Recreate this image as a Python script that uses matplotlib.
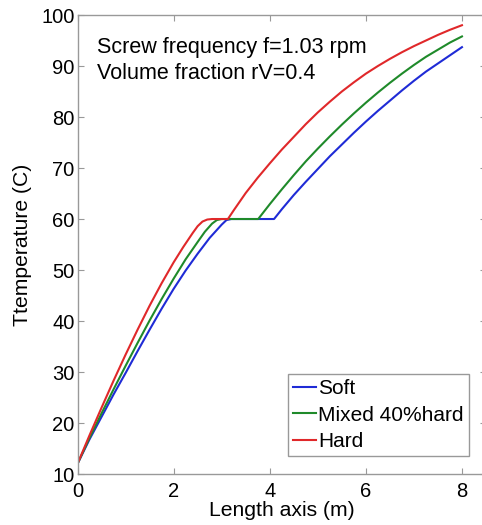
import matplotlib
matplotlib.use("Agg")
import matplotlib.pyplot as plt

plt.rcParams['font.family'] = ['Liberation Sans', 'DejaVu Sans']

# Soft (blue)
soft_x = [0, 0.25, 0.5, 0.75, 1.0, 1.25, 1.5, 1.75, 2.0, 2.25, 2.5, 2.75, 3.0, 3.1, 3.2,
          4.09, 4.25, 4.5, 4.75, 5.0, 5.25, 5.5, 5.75, 6.0, 6.25, 6.5, 6.75, 7.0, 7.25, 7.5, 7.75, 8.0]
soft_t = [12, 16.8, 21.2, 25.6, 29.8, 34.1, 38.3, 42.4, 46.3, 49.9, 53.2, 56.3, 58.9, 59.8, 60,
          60, 61.9, 64.7, 67.3, 69.8, 72.3, 74.6, 76.9, 79.1, 81.2, 83.2, 85.2, 87.1, 88.9, 90.5, 92.1, 93.7]

# Mixed 40% hard (green)
mixed_x = [0, 0.25, 0.5, 0.75, 1.0, 1.25, 1.5, 1.75, 2.0, 2.25, 2.5, 2.65, 2.8, 2.9, 3.0,
           3.76, 4.0, 4.25, 4.5, 4.75, 5.0, 5.25, 5.5, 5.75, 6.0, 6.25, 6.5, 6.75, 7.0, 7.25, 7.5, 7.75, 8.0]
mixed_t = [12, 17.1, 21.9, 26.6, 31.2, 35.7, 40.1, 44.3, 48.3, 52.1, 55.5, 57.5, 59.1, 59.8, 60,
           60, 62.9, 65.8, 68.6, 71.3, 73.8, 76.2, 78.5, 80.7, 82.8, 84.8, 86.7, 88.5, 90.2, 91.8, 93.2, 94.6, 95.8]

# Hard (red)
hard_x = [0, 0.25, 0.5, 0.75, 1.0, 1.25, 1.5, 1.75, 2.0, 2.2, 2.4, 2.5, 2.6, 2.7, 2.8,
          3.13, 3.25, 3.5, 3.75, 4.0, 4.25, 4.5, 4.75, 5.0, 5.25, 5.5, 5.75, 6.0, 6.25, 6.5, 6.75,
          7.0, 7.25, 7.5, 7.75, 8.0]
hard_t = [12, 17.6, 23.0, 28.3, 33.4, 38.3, 43.0, 47.4, 51.5, 54.5, 57.3, 58.6, 59.5, 59.9, 60,
          60, 61.7, 65.1, 68.1, 70.9, 73.6, 76.1, 78.6, 80.9, 83.0, 85.0, 86.8, 88.5, 90.0, 91.4, 92.7,
          93.9, 95.0, 96.1, 97.1, 98.0]

series_labels = ["Soft", "Mixed 40%hard", "Hard"]
series_colors = ["#1f2bd6", "#1f8a2a", "#e0282a"]

x_ticks = [0, 2, 4, 6, 8]
y_ticks = [10, 20, 30, 40, 50, 60, 70, 80, 90, 100]

annot_lines = ["Screw frequency f=1.03 rpm", "Volume fraction rV=0.4"]

fig = plt.figure(figsize=(4.82, 5.25), dpi=100)
ax = fig.add_axes([0.1608, 0.0971, 0.8475, 0.8743])

for xs, ts, lab, col in zip([soft_x, mixed_x, hard_x], [soft_t, mixed_t, hard_t],
                            series_labels, series_colors):
    ax.plot(xs, ts, color=col, lw=1.5, label=lab)

ax.set_xlim(0, 8.5)
ax.set_ylim(10, 100)
ax.set_xticks(x_ticks)
ax.set_yticks(y_ticks)
ax.tick_params(direction='in', top=True, right=True, labelsize=14.5, color='#999999',
               length=4, width=0.8)
ax.tick_params(axis='x', pad=5.5)
ax.tick_params(axis='y', pad=2)
for s in ax.spines.values():
    s.set_color('#999999')
    s.set_linewidth(1.0)

ax.set_xlabel("Length axis (m)", fontsize=15.2, labelpad=0)
ax.set_ylabel("Ttemperature (C)", fontsize=15.2, labelpad=7)

ax.text(0.4, 92.5, annot_lines[0], fontsize=15.5, va='baseline')
ax.text(0.4, 87.4, annot_lines[1], fontsize=15.5, va='baseline')

leg = ax.legend(loc='lower right', bbox_to_anchor=(0.958, 0.039), borderaxespad=0,
                fontsize=15, handlelength=1.1, handletextpad=0.1, labelspacing=0.35,
                borderpad=0.25, fancybox=False, framealpha=1, edgecolor='#999999')
leg.get_frame().set_linewidth(1.0)

fig.savefig("out.png", dpi=100)
